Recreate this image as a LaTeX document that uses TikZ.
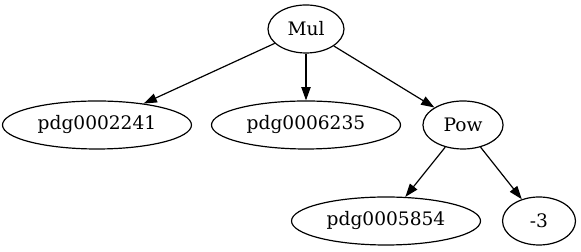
\documentclass[tikz,border=0pt]{standalone}
\usepackage{fontspec}
\setmainfont{DejaVu Serif}
\usetikzlibrary{shapes.geometric, arrows.meta}

\begin{document}
\begin{tikzpicture}[
    tnode/.style={ellipse, draw, line width=0.9pt, inner sep=0pt, minimum height=1.27cm, font=\fontsize{14}{16}\selectfont},
    wnode/.style={tnode, minimum width=5cm},
    tedge/.style={draw, line width=0.9pt, -{Triangle[length=10pt, width=7pt]}} ]
    % --- top ---
    \node[tnode, minimum width=2.01cm] (mul) at (8.096, 5.874) {Mul};

    % --- middle row ---
    \node[wnode] (p2241) at (2.566, 3.334) {pdg0002241};
    \node[wnode] (p6235) at (8.096, 3.334) {pdg0006235};
    \node[tnode, minimum width=2.12cm] (pow) at (12.25, 3.334) {Pow};

    % --- bottom row ---
    \node[wnode] (p5854) at (10.213, 0.794) {pdg0005854};
    \node[tnode, minimum width=1.93cm] (m3) at (14.261, 0.794) {-3};

    \draw[tedge] (mul) -- (p2241);
    \draw[tedge] (mul) -- (p6235);
    \draw[tedge] (mul) -- (pow);
    \draw[tedge] (pow) -- (p5854);
    \draw[tedge] (pow) -- (m3);

    % Bounding box for padding
    \useasboundingbox (0, 0) rectangle (15.372, 6.641);
\end{tikzpicture}
\end{document}
